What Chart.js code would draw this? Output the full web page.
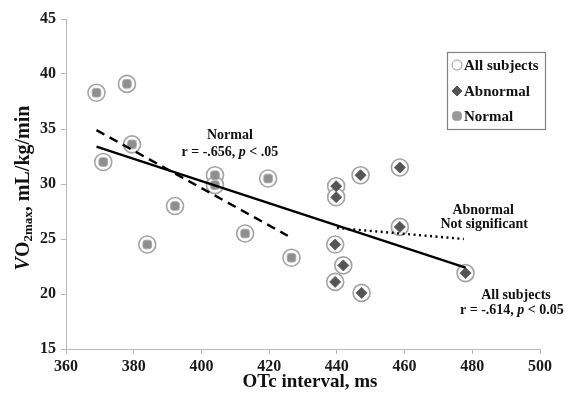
<!DOCTYPE html>
<html>
<head>
<meta charset="utf-8">
<script src="https://cdn.jsdelivr.net/npm/chart.js@4.4.1/dist/chart.umd.min.js"></script>
<style>
    html, body { margin: 0; padding: 0; background: #fff; }
    #wrap { width: 565px; height: 394px; }
</style>
</head>
<body>
<div id="wrap"><canvas id="qtcChart" width="565" height="394"></canvas></div>
<script>
// Tick labels
const xTicks = [360, 380, 400, 420, 440, 460, 480, 500];
const yTicks = [15, 20, 25, 30, 35, 40, 45];

// Normal subjects (QTc ms, VO2max)
const normalQtc = [369, 378, 379.5, 371, 404, 404, 419.7, 392.2, 412.9, 426.6, 384];
const normalVo2 = [38.3, 39.1, 33.6, 32.0, 30.8, 29.9, 30.5, 28.0, 25.5, 23.3, 24.5];

// Abnormal subjects
const abnormalQtc = [439.8, 439.8, 447, 458.6, 458.6, 439.5, 441.9, 439.5, 447.3, 478];
const abnormalVo2 = [29.8, 28.8, 30.8, 31.5, 26.1, 24.5, 22.6, 21.1, 20.1, 21.9];

// Regression line end points
const allFitQtc = [369, 478];
const allFitVo2 = [33.4, 22.4];
const normalFitQtc = [369, 425.5];
const normalFitVo2 = [34.9, 25.3];
const abnormalFitQtc = [440, 477.5];
const abnormalFitVo2 = [26.0, 25.0];

const SERIF = '"Liberation Serif", "DejaVu Serif", serif';

function toPoints(xs, ys) {
    return xs.map((x, i) => ({ x: x, y: ys[i] }));
}

const allPoints = toPoints(normalQtc.concat(abnormalQtc), normalVo2.concat(abnormalVo2));

const circleStyle = {
    pointStyle: 'circle',
    pointRadius: 8.5,
    pointBackgroundColor: '#fbfbfb',
    pointBorderColor: '#a4a4a4',
    pointBorderWidth: 1.6
};

/**
 * Draws legend box, annotations and axis titles
 */
const decorPlugin = {
    id: 'decor',
    afterDraw(chart) {
        const ctx = chart.ctx;
        const xs = chart.scales.x;
        const ys = chart.scales.y;
        ctx.save();
        ctx.fillStyle = '#111';
        ctx.textBaseline = 'middle';

        // Annotations
        const notes = [
            { x: 408.4, y: 34.4, parts: [['Normal', '']] },
            { x: 408.4, y: 32.9, parts: [['r = -.656, ', ''], ['p', 'italic '], [' < .05', '']] },
            { x: 483.2, y: 27.6, parts: [['Abnormal', '']] },
            { x: 483.5, y: 26.3, parts: [['Not significant', '']] },
            { x: 492.9, y: 19.9, parts: [['All subjects', '']] },
            { x: 491.7, y: 18.5, parts: [['r = -.614, ', ''], ['p', 'italic '], [' < 0.05', '']] }
        ];
        notes.forEach(n => drawParts(ctx, n.parts, xs.getPixelForValue(n.x), ys.getPixelForValue(n.y), 14));

        // Legend
        const lx = 447, ly = 52, lw = 98, lh = 77;
        ctx.strokeStyle = '#808080';
        ctx.lineWidth = 1.2;
        ctx.strokeRect(lx + 0.5, ly + 0.5, lw, lh);
        const items = [
            { label: 'All subjects', y: ly + 13, style: 'circle', color: '#fff', border: '#999', r: 5 },
            { label: 'Abnormal', y: ly + 39, style: 'rectRot', color: '#555', border: '#555', r: 5 },
            { label: 'Normal', y: ly + 64, style: 'rectRounded', color: '#999', border: '#999', r: 5 }
        ];
        items.forEach(it => {
            ctx.fillStyle = it.color;
            ctx.strokeStyle = it.border;
            ctx.lineWidth = 1;
            Chart.helpers.drawPoint(ctx, { pointStyle: it.style, radius: it.r, borderWidth: 1 }, lx + 10, it.y);
            ctx.fillStyle = '#111';
            ctx.textAlign = 'left';
            ctx.font = 'bold 15px ' + SERIF;
            ctx.fillText(it.label, lx + 17, it.y + 1);
        });

        // X title
        ctx.textAlign = 'center';
        ctx.font = 'bold 19px ' + SERIF;
        ctx.fillText('OTc interval, ms', 310, 382);

        // Y title with subscript
        ctx.translate(24, 188);
        ctx.rotate(-Math.PI / 2);
        const segs = [
            ['V', 'italic bold 20px ', 0],
            ['O', 'bold 20px ', 0],
            ['2max', 'bold 13px ', 5],
            [', mL/kg/min', 'bold 20px ', 0]
        ];
        let total = 0;
        segs.forEach(s => { ctx.font = s[1] + SERIF; total += ctx.measureText(s[0]).width; });
        let cx = -total / 2;
        ctx.textAlign = 'left';
        segs.forEach(s => {
            ctx.font = s[1] + SERIF;
            ctx.fillText(s[0], cx, s[2]);
            cx += ctx.measureText(s[0]).width;
        });
        ctx.restore();
    }
};

function drawParts(ctx, parts, cx, cy, size) {
    let total = 0;
    parts.forEach(p => { ctx.font = p[1] + 'bold ' + size + 'px ' + SERIF; total += ctx.measureText(p[0]).width; });
    let x = cx - total / 2;
    ctx.textAlign = 'left';
    parts.forEach(p => {
        ctx.font = p[1] + 'bold ' + size + 'px ' + SERIF;
        ctx.fillText(p[0], x, cy);
        x += ctx.measureText(p[0]).width;
    });
    ctx.textAlign = 'center';
}

const lineBase = {
    type: 'line',
    borderColor: '#000',
    borderWidth: 2.4,
    pointRadius: 0,
    fill: false,
    showLine: true,
    order: 0
};

new Chart(document.getElementById('qtcChart').getContext('2d'), {
    type: 'scatter',
    data: {
        datasets: [
            Object.assign({ label: 'All subjects', data: allPoints, order: 3 }, circleStyle),
            {
                label: 'Normal',
                data: toPoints(normalQtc, normalVo2),
                pointStyle: 'rectRounded',
                pointRadius: 5,
                pointBackgroundColor: '#8e8e8e',
                pointBorderColor: '#a8a8a8',
                pointBorderWidth: 1,
                order: 2
            },
            {
                label: 'Abnormal',
                data: toPoints(abnormalQtc, abnormalVo2),
                pointStyle: 'rectRot',
                pointRadius: 5.5,
                pointBackgroundColor: '#555',
                pointBorderColor: '#666',
                pointBorderWidth: 1,
                order: 2
            },
            Object.assign({}, lineBase, { label: 'fitAll', data: toPoints(allFitQtc, allFitVo2) }),
            Object.assign({}, lineBase, { label: 'fitNormal', data: toPoints(normalFitQtc, normalFitVo2), borderDash: [9, 6] }),
            Object.assign({}, lineBase, { label: 'fitAbnormal', data: toPoints(abnormalFitQtc, abnormalFitVo2), borderDash: [2, 3.5] })
        ]
    },
    options: {
        responsive: false,
        animation: false,
        layout: { padding: { top: 19, right: 25, left: 0, bottom: 0 } },
        plugins: {
            legend: { display: false },
            tooltip: { enabled: false }
        },
        scales: {
            x: {
                type: 'linear',
                min: 360,
                max: 500,
                afterBuildTicks: s => { s.ticks = xTicks.map(v => ({ value: v })); },
                afterFit: s => { s.height = 45; },
                grid: { drawOnChartArea: false, drawTicks: true, tickLength: 5, color: '#b8b8b8' },
                border: { color: '#b8b8b8', width: 1 },
                ticks: {
                    color: '#1a1a1a',
                    padding: 3,
                    maxRotation: 0,
                    font: { family: SERIF, size: 16, weight: 'bold' }
                }
            },
            y: {
                type: 'linear',
                min: 15,
                max: 45,
                afterBuildTicks: s => { s.ticks = yTicks.map(v => ({ value: v })); },
                afterFit: s => { s.width = 66; },
                grid: { drawOnChartArea: false, drawTicks: true, tickLength: 5, color: '#b8b8b8' },
                border: { color: '#b8b8b8', width: 1 },
                ticks: {
                    color: '#1a1a1a',
                    padding: 5,
                    font: { family: SERIF, size: 16, weight: 'bold' }
                }
            }
        }
    },
    plugins: [decorPlugin]
});
</script>
</body>
</html>
